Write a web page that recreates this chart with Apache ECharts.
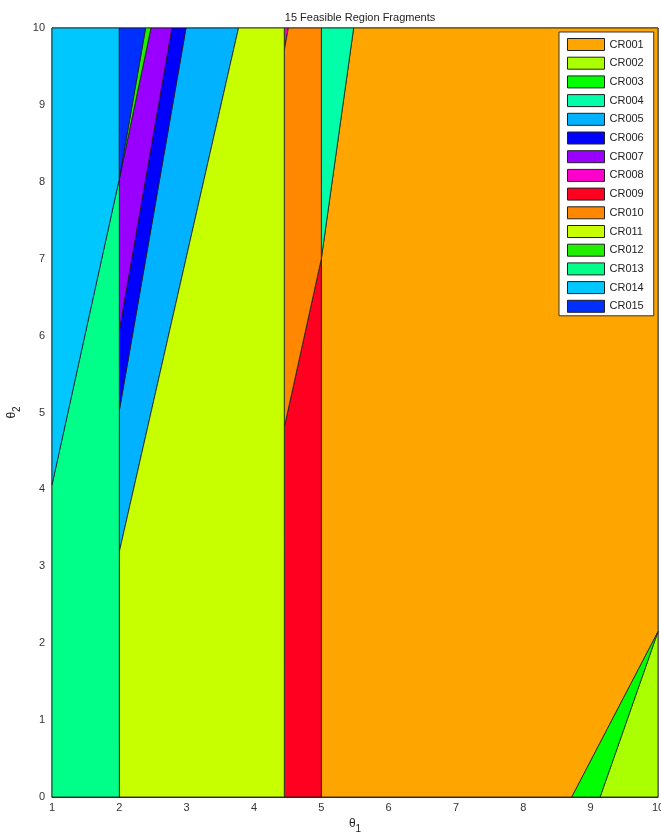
<!DOCTYPE html>
<html>
<head>
<meta charset="utf-8">
<script src="https://cdn.jsdelivr.net/npm/echarts@6/dist/echarts.min.js"></script>
<style>
  html, body { margin: 0; padding: 0; background: #fff; }
  #chart { width: 661px; height: 838px; }
</style>
</head>
<body>
<div id="chart"></div>
<script>
// region names (legend order)
const regionNames = ['CR001', 'CR002', 'CR003', 'CR004', 'CR005', 'CR006', 'CR007', 'CR008',
  'CR009', 'CR010', 'CR011', 'CR012', 'CR013', 'CR014', 'CR015'];

// polygon vertices [theta1, theta2] for each region
const cr001 = [[5, 0], [8.72, 0], [10, 2.15], [10, 10], [5.48, 10], [5, 7.0]];
const cr002 = [[9.14, 0], [10, 0], [10, 2.15]];
const cr003 = [[8.72, 0], [9.14, 0], [10, 2.15]];
const cr004 = [[5, 7.0], [5, 10], [5.48, 10]];
const cr005 = [[2, 3.19], [2, 5.03], [2.99, 10], [3.77, 10]];
const cr006 = [[2, 5.03], [2, 6.07], [2.78, 10], [2.99, 10]];
const cr007 = [[2, 6.07], [2, 8.04], [2.47, 10], [2.78, 10]];
const cr008 = [[4.45, 9.71], [4.45, 10], [4.51, 10]];
const cr009 = [[4.45, 0], [5, 0], [5, 7.0], [4.45, 4.81]];
const cr010 = [[4.45, 4.81], [4.45, 9.71], [4.51, 10], [5, 10], [5, 7.0]];
const cr011 = [[2, 0], [4.45, 0], [4.45, 10], [3.77, 10], [2, 3.19]];
const cr012 = [[2, 8.04], [2.39, 10], [2.47, 10]];
const cr013 = [[1, 0], [2, 0], [2, 8.04], [1, 4.06]];
const cr014 = [[1, 4.06], [2, 8.04], [2, 10], [1, 10]];
const cr015 = [[2, 8.04], [2, 10], [2.39, 10]];

const regions = [cr001, cr002, cr003, cr004, cr005, cr006, cr007, cr008,
  cr009, cr010, cr011, cr012, cr013, cr014, cr015];

const regionColors = ['#ffa500', '#aaff00', '#00ff00', '#00ffa8', '#00b2ff', '#0000ff', '#9900ff', '#ff00cc',
  '#ff0020', '#ff8800', '#c8ff00', '#22ee00', '#00ff88', '#00c8ff', '#0030ff'];

// axis ticks
const xTicks = [1, 2, 3, 4, 5, 6, 7, 8, 9, 10];
const yTicks = [0, 1, 2, 3, 4, 5, 6, 7, 8, 9, 10];

const font = "'Liberation Sans', Arial, sans-serif";

// theta with a subscript
const subRich = {
  t: { fontSize: 12, color: '#222', fontFamily: font, verticalAlign: 'top' },
  s: { fontSize: 10, color: '#222', fontFamily: font, verticalAlign: 'bottom', padding: [6, 0, 0, 0] }
};

function renderItem(params, api) {
  const pts = regions[params.seriesIndex].map(p => api.coord(p));
  return {
    type: 'polygon',
    shape: { points: pts },
    style: { fill: api.visual('color'), stroke: '#1a1a1a', lineWidth: 0.8 }
  };
}

const series = regionNames.map((name, i) => ({
  name: name,
  type: 'custom',
  renderItem: renderItem,
  itemStyle: { color: regionColors[i] },
  data: [regions[i][0]],
  silent: true
}));

const chart = echarts.init(document.getElementById('chart'));
chart.setOption({
  backgroundColor: '#fff',
  animation: false,
  textStyle: { fontFamily: font },
  title: {
    text: '15 Feasible Region Fragments',
    left: 355,
    textAlign: 'center',
    top: 7,
    textStyle: { fontSize: 11, fontWeight: 'normal', color: '#222', fontFamily: font }
  },
  grid: {
    left: 52, right: 3, top: 28, bottom: 41,
    outerBoundsMode: 'none', containLabel: false,
    show: true, borderColor: '#333', borderWidth: 1, backgroundColor: 'transparent'
  },
  legend: {
    orient: 'vertical',
    left: 559,
    top: 32,
    padding: [6, 10, 3, 8],
    itemWidth: 37,
    itemHeight: 12,
    itemGap: 5.7,
    icon: 'rect',
    selectedMode: false,
    backgroundColor: '#fff',
    borderColor: '#333',
    borderWidth: 1,
    itemStyle: { borderColor: '#222', borderWidth: 1 },
    textStyle: { fontSize: 11, color: '#222', fontFamily: font, lineHeight: 12 },
    data: regionNames
  },
  xAxis: {
    type: 'value',
    min: xTicks[0],
    max: xTicks[xTicks.length - 1],
    interval: 1,
    name: '{t|θ}{s|1}',
    nameLocation: 'middle',
    nameGap: 19,
    nameTextStyle: { rich: subRich },
    axisLine: { show: true, onZero: false, lineStyle: { color: '#333' } },
    axisTick: { show: false },
    splitLine: { show: false },
    axisLabel: { fontSize: 11, color: '#333', margin: 5, fontFamily: font }
  },
  yAxis: {
    type: 'value',
    min: yTicks[0],
    max: yTicks[yTicks.length - 1],
    interval: 1,
    name: '{t|θ}{s|2}',
    nameLocation: 'middle',
    nameGap: 26,
    nameRotate: 90,
    nameTextStyle: { rich: subRich },
    axisLine: { show: true, onZero: false, lineStyle: { color: '#333' } },
    axisTick: { show: false },
    splitLine: { show: false },
    axisLabel: { fontSize: 11, color: '#333', margin: 7, fontFamily: font }
  },
  series: series
});
</script>
</body>
</html>
